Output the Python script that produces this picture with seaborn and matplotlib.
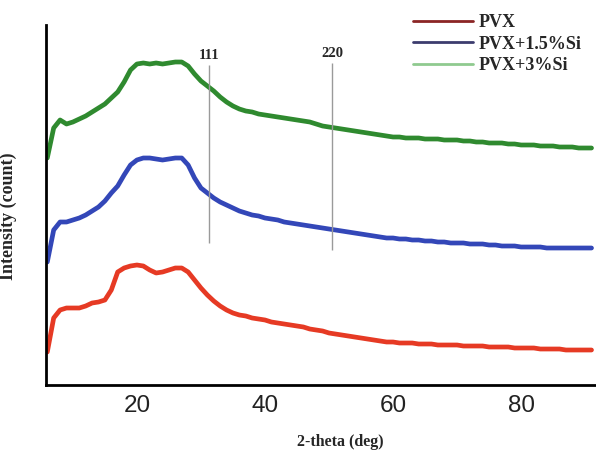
import numpy as np
import pandas as pd
import seaborn as sns
import matplotlib.pyplot as plt
from matplotlib.lines import Line2D

# 2-theta positions (deg), one reading per degree
two_theta = list(range(6, 92))

pvx = [33, 67, 75, 77, 77, 77, 79, 82, 83, 85, 95, 113, 117, 119, 120, 119, 115, 112, 113, 115,
       117, 117, 113, 105, 97, 90, 84, 79, 75, 72, 70, 69, 67, 66, 65, 63, 62, 61, 60, 59,
       58, 56, 55, 54, 52, 51, 50, 49, 48, 47, 46, 45, 44, 43, 43, 42, 42, 42, 41, 41,
       41, 40, 40, 40, 40, 39, 39, 39, 39, 38, 38, 38, 38, 37, 37, 37, 37, 36, 36, 36,
       36, 35, 35, 35, 35, 35]

pvx_15si = [123, 155, 163, 163, 165, 167, 170, 174, 178, 184, 192, 199, 210, 220, 225, 227, 227, 226, 225, 226,
            227, 227, 220, 207, 197, 192, 187, 183, 180, 177, 174, 172, 170, 169, 167, 166, 165, 163, 162, 161,
            160, 159, 158, 157, 156, 155, 154, 153, 152, 151, 150, 149, 148, 147, 147, 146, 146, 145, 145, 144,
            144, 143, 143, 142, 142, 142, 141, 141, 141, 140, 140, 139, 139, 139, 138, 138, 138, 138, 137, 137,
            137, 137, 137, 137, 137, 137]

pvx_3si = [227, 257, 265, 261, 263, 266, 269, 273, 277, 281, 287, 293, 303, 315, 321, 322, 321, 322, 321, 322,
           323, 323, 319, 311, 304, 299, 294, 288, 283, 279, 276, 274, 273, 271, 270, 269, 268, 267, 266, 265,
           264, 263, 261, 259, 258, 257, 256, 255, 254, 253, 252, 251, 250, 249, 248, 248, 247, 247, 247, 246,
           246, 246, 245, 245, 245, 244, 244, 243, 243, 242, 242, 242, 241, 241, 240, 240, 240, 239, 239, 239,
           238, 238, 238, 237, 237, 237]

labels = ['PVX', 'PVX+1.5%Si', 'PVX+3%Si']
curve_colors = ['#e63a24', '#3347b8', '#2f8a2f']
legend_colors = ['#8b2525', '#3c3c6e', '#8fca8f']

# reference reflections: (hkl, position, line bottom, line top)
peaks = [('111', 31.25, 142, 320), ('220', 50.5, 135, 322)]

df = pd.DataFrame({
    'two_theta': two_theta * 3,
    'intensity': pvx + pvx_15si + pvx_3si,
    'sample': [labels[0]] * len(pvx) + [labels[1]] * len(pvx_15si) + [labels[2]] * len(pvx_3si),
})

sns.set_style('white')
fig = plt.figure(figsize=(5.96, 4.5), dpi=100)
ax = fig.add_axes([46 / 596, 65 / 450, 550 / 596, 360 / 450])

sns.lineplot(data=df, x='two_theta', y='intensity', hue='sample', hue_order=labels,
             palette=curve_colors, linewidth=3.4, legend=False, ax=ax)

for hkl, pos, y0, y1 in peaks:
    ax.vlines(pos, y0, y1, color='#9a9a9a', linewidth=1)
    ax.text(pos, y1 + 3, hkl, ha='center', va='bottom', fontsize=10.5,
            fontweight='bold', family='Liberation Serif')

ax.set_xlim(5.8, 91.7)
ax.set_ylim(0, 360)
ax.set_xticks([20, 40, 60, 80])
ax.set_yticks([])
ax.tick_params(axis='x', length=0, labelsize=17.5, labelcolor='#222222', pad=7)
for lbl in ax.get_xticklabels():
    lbl.set_family('Liberation Sans')

for side in ['top', 'right']:
    ax.spines[side].set_visible(False)
for side in ['left', 'bottom']:
    ax.spines[side].set_color('black')
    ax.spines[side].set_linewidth(2)

ax.set_xlabel('2-theta (deg)', fontsize=11.5, fontweight='bold', family='Liberation Serif')
ax.xaxis.set_label_coords(0.535, -0.135)
ax.set_ylabel('Intensity (count)', fontsize=13, fontweight='bold', family='Liberation Serif')
ax.yaxis.set_label_coords(-0.053, 0.47)

handles = [Line2D([], [], color=c, linewidth=2) for c in legend_colors]
fig.legend(handles, labels, loc='upper left', bbox_to_anchor=(404 / 596, 1 - 5 / 450),
           frameon=False, handlelength=3.3, handletextpad=0.35, labelspacing=0.25,
           borderpad=0, prop={'family': 'Liberation Serif', 'weight': 'bold', 'size': 13})

fig.savefig('out.png', dpi=100)
